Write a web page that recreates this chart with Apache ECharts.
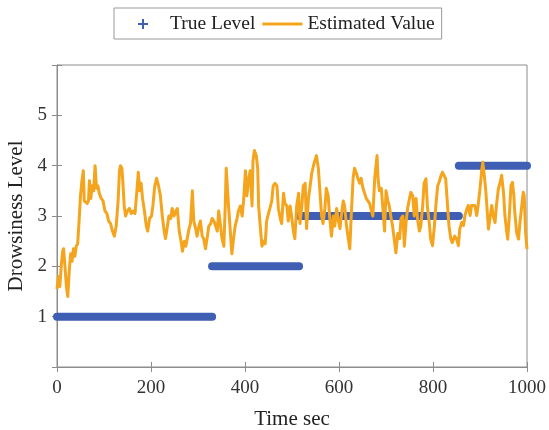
<!DOCTYPE html>
<html>
<head>
<meta charset="utf-8">
<script src="https://cdn.jsdelivr.net/npm/echarts@6/dist/echarts.min.js"></script>
<style>
  html, body { margin: 0; padding: 0; background: #fff; }
  #chart { width: 549px; height: 430px; }
</style>
</head>
<body>
<div id="chart"></div>
<script>
// true drowsiness level, piecewise constant
const levelStart = [0, 330, 515, 855]
const levelEnd = [330, 515, 855, 1000]
const levelValue = [1, 2, 3, 4]

// estimated value
const estTime = [
	0, 3, 6, 9, 12, 14, 17, 20, 23, 26, 29, 32, 35, 38, 41, 44, 47, 50, 53, 56,
	58, 61, 64, 67, 69, 72, 75, 78, 81, 84, 87, 90, 94, 98, 102, 106, 110, 114, 118, 122,
	126, 130, 133, 135, 138, 140, 143, 146, 150, 154, 158, 162, 166, 170, 173, 176, 179, 182, 186, 190,
	193, 197, 201, 204, 208, 212, 216, 220, 224, 228, 231, 235, 238, 242, 245, 249, 253, 256, 260, 264,
	267, 271, 274, 278, 281, 284, 288, 291, 295, 298, 302, 305, 309, 312, 316, 320, 323, 327, 330, 334,
	337, 341, 344, 348, 351, 355, 358, 360, 363, 365, 368, 372, 375, 379, 383, 386, 390, 394, 397, 401,
	404, 408, 411, 415, 417, 420, 424, 427, 429, 432, 436, 440, 443, 446, 450, 453, 457, 460, 464, 468,
	471, 475, 478, 482, 485, 489, 492, 496, 499, 503, 506, 510, 514, 517, 521, 524, 528, 531, 535, 538,
	542, 547, 552, 556, 559, 563, 566, 570, 573, 577, 580, 584, 588, 591, 595, 598, 602, 605, 609, 612,
	616, 619, 623, 626, 630, 633, 637, 640, 644, 647, 651, 658, 665, 672, 676, 681, 683, 686, 690, 693,
	697, 700, 704, 707, 711, 714, 718, 721, 725, 729, 732, 736, 739, 743, 746, 750, 753, 757, 760, 764,
	767, 771, 774, 778, 781, 785, 788, 792, 795, 799, 803, 806, 810, 813, 817, 820, 824, 827, 831, 834,
	838, 841, 846, 850, 854, 857, 861, 865, 868, 872, 875, 879, 882, 886, 889, 893, 896, 900, 904, 906,
	909, 912, 916, 918, 921, 925, 928, 932, 935, 939, 943, 946, 950, 953, 957, 959, 962, 966, 969, 972,
	974, 978, 982, 985, 989, 992, 994, 997, 1000
]
const estValue = [
	1.55, 1.8, 1.6, 2.0, 2.3, 2.35, 2.0, 1.6, 1.4, 1.9, 2.25, 2.1, 2.35, 2.2, 2.4, 2.45, 2.9, 3.4, 3.7, 3.9,
	3.3, 3.3, 3.25, 3.3, 3.7, 3.35, 3.6, 3.5, 4.0, 3.55, 3.6, 3.45, 3.35, 3.3, 3.1, 3.05, 2.9, 2.85, 2.7, 2.6,
	2.8, 3.3, 3.9, 4.0, 3.95, 3.7, 3.2, 3.0, 3.1, 3.15, 3.05, 3.1, 3.05, 3.5, 3.87, 3.5, 3.65, 3.35, 3.1, 2.8,
	2.7, 2.95, 3.0, 3.2, 3.6, 3.75, 3.6, 3.4, 3.0, 2.7, 2.55, 2.8, 3.0, 2.95, 3.15, 3.0, 3.1, 3.15, 2.7, 2.5,
	2.3, 2.5, 2.4, 2.6, 2.75, 2.85, 3.5, 2.9, 2.75, 2.6, 2.8, 2.9, 2.6, 2.55, 2.35, 2.6, 2.8, 2.85, 2.95, 2.9,
	2.9, 2.7, 3.1, 2.8, 2.55, 2.4, 3.2, 3.95, 3.5, 3.2, 2.8, 2.25, 2.5, 2.8, 2.95, 3.1, 3.2, 3.0, 3.3, 3.9,
	3.4, 3.75, 3.9, 3.2, 4.1, 4.3, 4.2, 3.95, 3.2, 2.85, 2.4, 2.5, 2.45, 2.9, 3.05, 3.15, 3.3, 3.6, 3.65, 3.6,
	3.15, 2.95, 2.85, 3.45, 3.25, 3.2, 2.9, 3.2, 3.0, 2.7, 2.55, 3.2, 3.45, 2.85, 3.2, 3.6, 3.65, 2.75, 3.35, 3.55,
	3.85, 4.05, 4.2, 3.95, 3.55, 3.0, 2.85, 3.15, 3.55, 3.4, 3.0, 2.6, 3.0, 2.8, 3.15, 2.95, 2.75, 3.0, 3.3, 3.2,
	2.8, 2.6, 2.35, 3.0, 3.75, 3.95, 3.85, 3.75, 3.65, 3.75, 3.55, 3.35, 3.25, 3.0, 3.75, 4.2, 3.75, 3.5, 3.55, 3.2,
	2.7, 3.5, 3.3, 3.2, 2.95, 2.8, 2.5, 2.27, 2.65, 2.55, 2.95, 3.0, 2.4, 2.9, 3.15, 3.35, 3.47, 3.4, 3.0, 3.35,
	2.95, 2.7, 2.8, 3.2, 3.65, 3.74, 3.2, 2.87, 2.54, 2.41, 2.8, 3.2, 3.6, 3.67, 3.8, 3.87, 3.9, 3.74, 3.2, 2.8,
	2.54, 2.47, 2.6, 2.55, 2.41, 2.74, 2.87, 2.81, 3.01, 3.14, 3.21, 3.01, 3.21, 3.24, 3.21, 3.01, 3.21, 3.54, 3.94, 4.07,
	3.81, 3.54, 3.01, 2.74, 2.94, 3.21, 3.01, 2.87, 3.21, 3.54, 3.67, 3.81, 3.47, 3.01, 2.67, 2.54, 2.94, 3.61, 3.67, 3.41,
	3.07, 2.67, 2.54, 2.87, 3.21, 3.47, 3.41, 2.67, 2.34
]

const xTicks = [0, 200, 400, 600, 800, 1000]
const yTickLabels = [1, 2, 3, 4, 5]

const blue = '#3f5fb5'
const orange = '#f5a41d'
const serif = 'Liberation Serif'
const axisGray = '#8c8c8c'

let myChart = echarts.init(document.getElementById('chart'), null, {renderer: 'canvas'})

let series = []
for (let i = 0; i < levelValue.length; i++) {
	series.push({
		name: 'True Level',
		type: 'line',
		data: [[levelStart[i], levelValue[i]], [levelEnd[i], levelValue[i]]],
		showSymbol: false,
		symbol: 'none',
		lineStyle: {color: blue, width: 8, cap: 'round'},
		itemStyle: {color: blue},
		silent: true,
		clip: false,
		z: 2
	})
}

let estData = []
for (let i = 0; i < estTime.length; i++) {
	estData.push([estTime[i], estValue[i]])
}
series.push({
	name: 'Estimated Value',
	type: 'line',
	data: estData,
	showSymbol: false,
	symbol: 'none',
	lineStyle: {color: orange, width: 3, join: 'round'},
	itemStyle: {color: orange},
	z: 3
})

// mirror axis on top / right, ticks only
function mirrorAxis(position, min, max, interval) {
	return {
		type: 'value',
		position: position,
		min: min,
		max: max,
		interval: interval,
		axisLine: {show: true, lineStyle: {color: axisGray}},
		axisTick: {show: true, inside: true, length: 5, lineStyle: {color: axisGray}},
		axisLabel: {show: false},
		splitLine: {show: false}
	}
}

let option = {
	animation: false,
	backgroundColor: '#fff',
	legend: {
		left: 114,
		top: 8,
		padding: [6, 7, 5, 11],
		itemGap: 7,
		itemWidth: 40,
		itemHeight: 10,
		borderColor: '#999',
		borderWidth: 1,
		textStyle: {fontFamily: serif, fontSize: 19.5, color: '#222'},
		data: [
			// plus with empty space round it so that the text sits where it does in the figure
			{name: 'True Level', icon: 'path://M0,5L0,5M40,5L40,5M17,0H19V4H23V6H19V10H17V6H13V4H17Z', itemStyle: {color: blue}},
			{name: 'Estimated Value', icon: 'path://M0,3.6H40V6.4H0Z', itemStyle: {color: orange}}
		]
	},
	grid: {
		left: 57,
		right: 22,
		top: 65,
		bottom: 63,
		outerBoundsMode: 'none',
		containLabel: false,
		show: true,
		borderColor: axisGray,
		borderWidth: 1
	},
	xAxis: [{
		type: 'value',
		min: 0,
		max: 1000,
		interval: 200,
		name: 'Time sec',
		nameLocation: 'middle',
		nameGap: 42,
		nameTextStyle: {fontFamily: serif, fontSize: 21, color: '#222'},
		axisLine: {show: true, lineStyle: {color: axisGray}},
		axisTick: {show: true, inside: true, length: 5, lineStyle: {color: axisGray}},
		axisLabel: {
			fontFamily: serif, fontSize: 19, color: '#333', margin: 12,
			formatter: function (v) { return xTicks.indexOf(v) >= 0 ? String(v) : '' }
		},
		splitLine: {show: false}
	}, mirrorAxis('top', 0, 1000, 200)],
	yAxis: [{
		type: 'value',
		min: 0,
		max: 6,
		interval: 1,
		name: 'Drowsiness Level',
		nameLocation: 'middle',
		nameGap: 23,
		nameTextStyle: {fontFamily: serif, fontSize: 21, color: '#222'},
		axisLine: {show: true, lineStyle: {color: axisGray}},
		axisTick: {show: true, inside: true, length: 5, lineStyle: {color: axisGray}},
		axisLabel: {
			fontFamily: serif, fontSize: 19, color: '#333', margin: 10,
			formatter: function (v) { return yTickLabels.indexOf(v) >= 0 ? String(v) : '' }
		},
		splitLine: {show: false}
	}, mirrorAxis('right', 0, 6, 1)],
	series: series
}

myChart.setOption(option)
</script>
</body>
</html>
